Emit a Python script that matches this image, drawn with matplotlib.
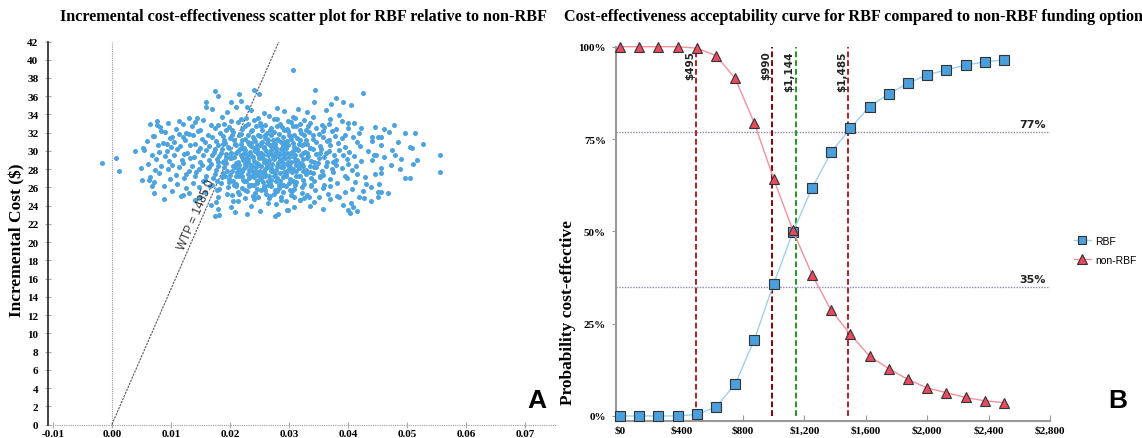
import matplotlib
matplotlib.use("Agg")
import matplotlib.pyplot as plt
from matplotlib.lines import Line2D

# ---------------- data: panel A (incremental effect x1000, incremental cost $) ----------------
rows_upper = [
    (17.0,34.6),(19.5,34.3),(21.0,34.8),(23.5,34.5),(25.8,34.2),(28.0,34.7),(29.2,34.4),(31.5,34.6),(33.0,34.3),(36.2,34.5),
    (13.0,33.6),(15.5,33.4),(18.6,33.7),(20.2,33.3),(22.7,33.6),(24.0,33.4),(26.6,33.8),(27.5,33.5),(29.8,33.3),(31.0,33.6),(32.5,33.4),(34.0,33.7),(37.0,33.5),(39.0,33.3),
    (9.5,33.1),(12.0,32.9),(14.0,33.2),(16.8,32.8),(19.0,33.0),(21.3,33.2),(23.1,32.9),(25.0,33.1),(26.0,32.8),(28.4,33.0),(30.3,33.2),(31.8,32.9),(33.6,33.1),(35.5,32.8),(36.8,33.0),(41.0,33.1),
    (8.2,32.6),(10.8,32.4),(13.5,32.7),(15.0,32.3),(17.5,32.5),(19.8,32.6),(22.0,32.4),(24.4,32.7),(25.5,32.3),(27.0,32.5),(28.8,32.6),(29.7,32.4),(31.2,32.7),(32.9,32.3),(34.6,32.5),(36.0,32.6),(38.0,32.4),(40.0,32.5),(44.5,32.6),
    (9.0,32.1),(11.3,31.9),(12.6,32.0),(14.6,32.2),(16.2,31.8),(18.3,32.0),(20.5,32.1),(21.8,31.9),(23.5,32.2),(24.8,31.8),(26.3,32.0),(27.4,32.1),(28.3,31.9),(29.9,32.2),(30.8,31.8),(32.0,32.0),(33.4,32.1),(35.0,31.9),(37.2,32.2),(39.5,31.8),(41.8,32.0),(47.0,32.1),
    (7.0,31.6),(9.8,31.4),(12.0,31.5),(13.8,31.7),(15.3,31.3),(17.0,31.5),(18.8,31.6),(20.0,31.4),(21.5,31.7),(22.6,31.3),(23.9,31.5),(25.1,31.6),(26.0,31.4),(26.9,31.7),(28.0,31.3),(29.0,31.5),(30.2,31.6),(31.4,31.4),(32.5,31.7),(34.1,31.3),(35.7,31.5),(37.8,31.6),(39.0,31.4),(40.8,31.5),
]
rows_middle = [
    (6.0,31.1),(8.6,30.9),(10.5,31.0),(12.4,31.2),(14.0,30.8),(15.8,31.0),(17.6,31.1),(19.2,30.9),(20.6,31.2),(21.9,30.8),(23.0,31.0),(24.2,31.1),(25.3,30.9),(26.5,31.2),(27.6,30.8),(28.6,31.0),(29.6,31.1),(30.7,30.9),(31.9,31.2),(33.0,30.8),(34.5,31.0),(36.4,31.1),(38.3,30.9),(41.5,31.0),(44.0,31.1),(48.5,31.0),
    (7.8,30.6),(10.0,30.4),(11.5,30.5),(13.2,30.7),(15.0,30.3),(16.5,30.5),(18.0,30.6),(19.6,30.4),(21.0,30.7),(22.3,30.3),(23.6,30.5),(24.6,30.6),(25.7,30.4),(26.7,30.7),(27.8,30.3),(28.9,30.5),(29.8,30.6),(30.9,30.4),(32.2,30.7),(33.6,30.3),(35.2,30.5),(37.0,30.6),(39.4,30.4),(42.0,30.5),(45.5,30.6),(50.5,30.4),
    (5.5,30.1),(8.0,29.9),(9.4,30.0),(11.0,30.2),(12.8,29.8),(14.5,30.0),(16.0,30.1),(17.3,29.9),(18.7,30.2),(20.1,29.8),(21.4,30.0),(22.5,30.1),(23.4,29.9),(24.3,30.2),(25.2,29.8),(26.1,30.0),(27.0,30.1),(27.9,29.9),(28.8,30.2),(29.7,29.8),(30.6,30.0),(31.5,30.1),(32.7,29.9),(34.0,30.2),(35.3,29.8),(36.8,30.0),(38.5,30.1),(40.2,29.9),(43.3,30.0),(47.5,30.1),
    (6.8,29.6),(9.0,29.4),(10.6,29.5),(12.2,29.7),(13.9,29.3),(15.5,29.5),(17.0,29.6),(18.2,29.4),(19.4,29.7),(20.7,29.3),(21.8,29.5),(22.8,29.6),(23.8,29.4),(24.7,29.7),(25.5,29.3),(26.4,29.5),(27.3,29.6),(28.2,29.4),(29.1,29.7),(30.0,29.3),(31.0,29.5),(32.0,29.6),(33.2,29.4),(34.6,29.7),(36.0,29.3),(37.6,29.5),(39.2,29.6),(41.0,29.4),(48.0,29.5),
    (7.5,29.1),(9.7,28.9),(11.8,29.0),(13.3,29.2),(14.9,28.8),(16.4,29.0),(17.8,29.1),(19.0,28.9),(20.2,29.2),(21.3,28.8),(22.2,29.0),(23.1,29.1),(24.0,28.9),(24.9,29.2),(25.8,28.8),(26.6,29.0),(27.5,29.1),(28.4,28.9),(29.3,29.2),(30.3,28.8),(31.3,29.0),(32.4,29.1),(33.7,28.9),(35.0,29.2),(36.5,28.8),(38.0,29.0),(39.8,29.1),(42.2,28.9),(44.0,29.0),(49.0,29.1),
    (6.2,28.6),(8.4,28.4),(10.2,28.5),(12.0,28.7),(13.6,28.3),(15.2,28.5),(16.8,28.6),(18.0,28.4),(19.3,28.7),(20.5,28.3),(21.6,28.5),(22.6,28.6),(23.5,28.4),(24.4,28.7),(25.3,28.3),(26.2,28.5),(27.1,28.6),(28.0,28.4),(29.0,28.7),(30.0,28.3),(31.1,28.5),(32.2,28.6),(33.5,28.4),(34.9,28.7),(36.2,28.3),(37.9,28.5),(40.0,28.6),(41.3,28.4),(47.2,28.5),(51.0,28.6),
]
rows_lower = [
    (5.0,28.1),(7.3,27.9),(9.5,28.0),(11.4,28.2),(13.0,27.8),(14.7,28.0),(16.3,28.1),(17.7,27.9),(19.0,28.2),(20.3,27.8),(21.5,28.0),(22.4,28.1),(23.3,27.9),(24.2,28.2),(25.1,27.8),(26.0,28.0),(26.9,28.1),(27.8,27.9),(28.7,28.2),(29.6,27.8),(30.6,28.0),(31.7,28.1),(32.9,27.9),(34.2,28.2),(35.6,27.8),(37.3,28.0),(39.0,28.1),(40.6,27.9),(48.8,28.0),
    (8.0,27.6),(10.8,27.4),(12.6,27.5),(14.3,27.7),(16.0,27.3),(17.4,27.5),(18.8,27.6),(20.0,27.4),(21.2,27.7),(22.0,27.3),(23.0,27.5),(24.0,27.6),(24.8,27.4),(25.7,27.7),(26.6,27.3),(27.6,27.5),(28.5,27.6),(29.5,27.4),(30.5,27.7),(31.6,27.3),(32.8,27.5),(34.0,27.6),(35.8,27.4),(37.5,27.7),(39.5,27.3),(41.5,27.5),(45.5,27.6),
    (6.5,27.1),(9.8,26.9),(12.2,27.0),(14.0,27.2),(15.7,26.8),(17.2,27.0),(18.6,27.1),(19.8,26.9),(21.0,27.2),(22.2,26.8),(23.2,27.0),(24.1,27.1),(25.0,26.9),(26.0,27.2),(27.0,26.8),(28.0,27.0),(29.0,27.1),(30.1,26.9),(31.2,27.2),(32.4,26.8),(33.8,27.0),(35.3,27.1),(37.0,26.9),(39.8,27.0),(42.8,27.1),(50.5,27.0),
    (7.2,26.6),(11.0,26.4),(13.8,26.5),(15.5,26.7),(17.0,26.3),(18.5,26.5),(19.9,26.6),(21.1,26.4),(22.4,26.7),(23.5,26.3),(24.6,26.5),(25.6,26.6),(26.7,26.4),(27.8,26.7),(28.9,26.3),(30.0,26.5),(31.2,26.6),(32.6,26.4),(34.2,26.7),(36.0,26.3),(38.2,26.5),(41.2,26.6),(45.2,26.4),
    (8.8,26.1),(12.5,25.9),(14.8,26.0),(16.6,26.2),(18.2,25.8),(19.6,26.0),(21.0,26.1),(22.1,25.9),(23.3,26.2),(24.5,25.8),(25.8,26.0),(27.0,26.1),(28.3,25.9),(29.5,26.2),(30.8,25.8),(32.2,26.0),(33.8,26.1),(35.8,25.9),(37.0,26.2),(40.6,25.8),(43.8,26.0),
    (10.2,25.6),(13.0,25.4),(15.8,25.5),(17.8,25.7),(19.5,25.3),(21.4,25.5),(22.9,25.6),(24.3,25.4),(25.9,25.7),(27.4,25.3),(29.0,25.5),(30.5,25.6),(32.2,25.4),(34.4,25.7),(36.6,25.3),(39.5,25.5),(42.5,25.6),(46.8,25.4),
    (11.7,25.1),(15.0,24.9),(18.0,25.0),(20.4,25.2),(22.5,24.8),(24.8,25.0),(26.8,25.1),(28.6,24.9),(30.4,25.2),(32.6,24.8),(35.0,25.0),(38.2,25.1),(41.8,24.9),(45.0,25.0),
    (14.0,24.6),(17.6,24.4),(21.4,24.5),(24.0,24.7),(26.5,24.3),(29.5,24.5),(31.8,24.6),(34.2,24.4),(37.0,24.7),(40.5,24.3),(43.8,24.5),
    (16.8,24.1),(20.2,23.9),(23.5,24.0),(27.8,24.2),(30.8,23.8),(33.5,24.0),(39.2,24.1),
    (18.0,23.6),(25.0,23.4),(29.8,23.5),(35.8,23.6),(41.5,23.4),
    (17.4,22.9),(18.2,23.0),(22.8,23.1),(27.6,22.9),(28.1,23.1),(40.3,23.2),
]
core_extra = [
    (19.0,31.25),(20.8,30.75),(22.0,31.25),(23.2,30.75),(24.0,31.35),(25.0,30.7),(26.2,31.3),(27.2,30.75),(28.2,31.25),(29.3,30.7),(30.4,31.3),(31.6,30.75),(32.8,31.2),
    (18.5,29.75),(19.8,30.3),(21.1,29.75),(22.0,30.3),(23.0,29.7),(24.0,30.3),(24.9,29.75),(25.8,30.3),(26.8,29.75),(27.6,30.3),(28.5,29.7),(29.4,30.3),(30.3,29.75),(31.2,30.25),(32.3,29.75),(33.5,30.3),
    (18.8,28.75),(20.0,29.25),(21.0,28.7),(22.0,29.3),(23.0,28.75),(23.9,29.3),(24.6,28.7),(25.5,29.25),(26.4,28.75),(27.2,29.3),(28.1,28.7),(29.0,29.25),(29.9,28.75),(30.8,29.3),(31.8,28.7),(33.0,29.25),(34.3,28.75),
    (19.5,27.75),(20.8,28.25),(21.8,27.7),(22.7,28.3),(23.7,27.75),(24.6,28.3),(25.4,27.7),(26.3,28.25),(27.2,27.75),(28.2,28.3),(29.1,27.7),(30.1,28.25),(31.1,27.75),(32.3,28.3),(33.6,27.7),
    (20.5,26.75),(21.6,27.25),(22.7,26.7),(23.7,27.3),(24.6,26.75),(25.5,27.25),(26.4,26.7),(27.4,27.3),(28.4,26.75),(29.5,27.25),(30.6,26.7),(31.8,27.3),
    (20.4,32.25),(22.6,32.75),(23.8,32.25),(25.2,32.75),(26.8,32.25),(28.0,32.75),(29.2,32.25),(30.6,32.75),(31.8,32.25),
    (22.5,25.75),(24.0,26.25),(25.2,25.7),(26.5,26.3),(27.7,25.75),(29.0,26.25),(30.2,25.75),
    (24.3,30.0),(25.6,29.5),(26.9,30.5),(28.4,29.0),(27.0,28.0),(25.5,31.0),(29.2,31.0),(23.5,28.5),(30.0,28.0),(26.0,27.5),
]
core_extra2 = [
    (17.5,30.25),(18.9,30.75),(20.3,31.75),(21.7,30.25),(23.0,31.8),(24.5,30.25),(25.9,31.75),(27.3,31.2),(28.7,30.25),(30.0,31.75),(31.3,30.2),(32.6,30.75),(34.0,31.75),(35.4,30.25),(36.8,31.25),
    (16.5,28.25),(17.9,28.8),(19.4,29.3),(20.9,28.25),(22.3,29.8),(23.6,28.2),(25.0,29.8),(26.2,28.2),(27.6,29.75),(28.9,28.25),(30.4,29.8),(31.7,28.25),(33.1,29.75),(34.6,28.25),(36.3,29.75),(37.5,28.75),
    (17.8,26.75),(19.2,27.25),(20.6,26.25),(22.0,27.75),(23.3,26.25),(24.4,27.8),(25.8,26.2),(27.0,27.75),(28.3,26.25),(29.7,27.8),(31.0,26.25),(32.4,27.75),(33.8,26.3),(35.2,27.25),
    (21.5,25.25),(23.9,25.05),(26.1,25.3),(28.0,25.6),(30.9,24.95),(33.1,25.2),
    (18.0,32.8),(19.3,32.25),(21.9,33.5),(24.8,33.6),(27.9,33.45),(30.6,33.7),(33.2,32.75),(35.8,32.2),
    (26.3,30.85),(27.7,29.35),(24.9,28.45),(26.0,29.0),(28.9,30.05),(23.5,30.9),(29.6,28.55),(25.2,27.05),(31.0,28.9),(22.6,29.1),
]
sparse_pts = [
    (-1.6,28.7),(0.7,29.2),(1.2,27.8),(4.0,30.0),(5.3,30.3),(5.1,26.8),(6.3,26.8),(6.8,26.2),(7.2,25.4),(6.5,32.9),(7.6,33.3),(7.6,32.8),(7.1,31.6),
    (8.9,24.7),(11.4,33.3),(12.0,25.2),(14.4,33.6),(15.9,34.8),(15.9,35.4),(17.4,36.6),(18.0,36.0),(20.1,35.4),(21.5,36.2),(21.9,35.5),(24.1,36.7),(24.9,36.2),
    (22.9,34.8),(20.9,23.3),(30.7,38.9),(34.4,36.7),(42.5,36.3),(38.0,35.8),(39.1,35.4),(40.5,35.0),(37.1,35.2),(34.3,35.4),(38.5,33.9),(40.0,33.1),
    (47.8,32.8),(49.6,32.0),(51.3,32.0),(46.1,32.4),(42.2,32.5),(52.7,30.8),(50.9,30.3),(55.6,29.5),(55.6,27.7),(51.7,29.0),(49.6,27.0),(46.1,29.3),
    (45.6,28.1),(44.6,27.5),(45.0,25.5),(45.5,25.5),(43.0,26.4),(42.7,24.8),(40.9,23.9),(39.9,23.5),(38.4,24.9),(33.4,24.9),(31.9,24.6),(29.7,23.5),
    (44.3,29.6),(44.8,29.6),(44.0,31.5),(45.1,31.5),(45.6,31.5),(26.6,24.8),(28.6,24.6),(20.5,24.5),(13.0,31.9),(8.3,32.2),(10.2,31.5),(9.3,30.8),
]
wtp_threshold = 1485.0

# ---------------- data: panel B (CEAC) ----------------
wtp_values = [0, 125, 250, 375, 500, 625, 750, 875, 1000, 1125, 1250, 1375, 1500,
              1625, 1750, 1875, 2000, 2125, 2250, 2375, 2500]
prob_rbf = [0.0, 0.0, 0.0, 0.0, 0.004, 0.024, 0.086, 0.207, 0.357, 0.497, 0.617, 0.714, 0.779,
            0.838, 0.872, 0.901, 0.924, 0.937, 0.950, 0.959, 0.964]
prob_non_rbf = [1.0, 1.0, 1.0, 1.0, 0.996, 0.976, 0.914, 0.793, 0.643, 0.503, 0.383, 0.286, 0.221,
                0.162, 0.128, 0.099, 0.076, 0.063, 0.050, 0.041, 0.036]
threshold_vals = [495, 990, 1144, 1485]
threshold_labels = ["$495", "$990", "$1,144", "$1,485"]
threshold_colors = ["#b22222", "#8b0000", "#1f9a1f", "#b22222"]
hline_vals = [0.77, 0.35]
hline_labels = ["77%", "35%"]
xticks_B = [0, 400, 800, 1200, 1600, 2000, 2400, 2800]
xticklabels_B = ["$0", "$400", "$800", "$1,200", "$1,600", "$2,000", "$2,400", "$2,800"]
yticks_B = [0, 0.25, 0.5, 0.75, 1.0]
yticklabels_B = ["0%", "25%", "50%", "75%", "100%"]
xticks_A = [-0.01, 0.0, 0.01, 0.02, 0.03, 0.04, 0.05, 0.06, 0.07]
xticklabels_A = ["-0.01", "0.00", "0.01", "0.02", "0.03", "0.04", "0.05", "0.06", "0.07"]
yticks_A = list(range(0, 43, 2))

# ---------------- figure ----------------
W, H = 1142, 439
fig = plt.figure(figsize=(W / 100, H / 100), dpi=100)


def fx(px):
    return px / W


def fy(py):
    return 1 - py / H


serif_b = dict(family="Liberation Serif", weight="bold")

# ---- Panel A ----
axA = fig.add_axes([fx(47.5), fy(425.5), fx(556) - fx(47.5), fy(42.5) - fy(425.5)])
axA.set_xlim(-0.0109, 0.0752)
axA.set_ylim(0, 42)
pts = rows_upper + rows_middle + rows_lower + core_extra + core_extra2 + sparse_pts
xs = [p[0] / 1000.0 for p in pts]
ys = [p[1] for p in pts]
axA.scatter(xs, ys, s=13, color="#4ba3df", linewidths=0, zorder=3)
axA.axvline(0, color="#9a9a9a", lw=0.8, ls=(0, (1, 1)), zorder=1)
axA.axhline(0, color="#9a9a9a", lw=0.8, ls=(0, (1, 1)), zorder=1, clip_on=False)
xe = 42 / wtp_threshold
axA.plot([0, xe], [0, wtp_threshold * xe], color="#555555", lw=0.8, ls=(0, (2, 1)), zorder=2)
axA.text(0.01433, 23.08, "WTP = 1485.0", rotation=66.4, rotation_mode="anchor",
         ha="center", va="center", fontsize=8.5, family="Liberation Sans", color="#333333")
for s in ["top", "right", "bottom"]:
    axA.spines[s].set_visible(False)
axA.spines["left"].set_color("#222222")
axA.spines["left"].set_linewidth(1.2)
axA.set_xticks(xticks_A)
axA.set_xticklabels(xticklabels_A)
axA.set_yticks(yticks_A)
axA.set_yticklabels([str(v) for v in yticks_A])
axA.tick_params(axis="both", direction="inout", length=5, color="#aaaaaa", width=0.8,
                labelsize=8)
axA.tick_params(axis="x", pad=1)
axA.tick_params(axis="y", pad=4)
for lab in axA.get_xticklabels() + axA.get_yticklabels():
    lab.set_fontfamily("Liberation Serif")
    lab.set_fontweight("bold")
fig.text(fx(304), fy(17), "Incremental cost-effectiveness scatter plot for RBF relative to non-RBF",
         ha="center", va="center", fontsize=11.6, **serif_b)
fig.text(fx(17), fy(240), "Incremental Cost ($)", rotation=90, ha="center", va="center",
         fontsize=12.5, **serif_b)
fig.text(fx(537), fy(401), "A", ha="center", va="center", fontsize=19, weight="bold",
         family="Liberation Sans")

# ---- Panel B ----
axB = fig.add_axes([fx(615.7), fy(422.3), fx(1050) - fx(615.7), fy(47.7) - fy(422.3)])
axB.set_xlim(-28, 2800)
axB.set_ylim(-0.0145, 1.0)
for v, lab, c in zip(threshold_vals, threshold_labels, threshold_colors):
    axB.vlines(v, 0, 1.0, colors=c, linestyles=(0, (3, 1.5)), lw=1.4, zorder=2)
    axB.text(v - 8, 0.99, lab, rotation=90, ha="right", va="top", fontsize=7.5,
             weight="bold", family="DejaVu Sans", color="#222222", zorder=4)
for v, lab in zip(hline_vals, hline_labels):
    axB.hlines(v, -28, 2800, colors="#8a88b8", linestyles=(0, (1, 1)), lw=1.0, zorder=1)
    axB.text(2770, v + 0.008, lab, ha="right", va="bottom", fontsize=8, weight="bold",
             family="DejaVu Sans", color="#222222")
axB.plot(wtp_values, prob_rbf, color="#9fd0ef", lw=1.0, marker="s", ms=7,
         mfc="#4a9fdc", mec="#333333", mew=0.8, zorder=5, clip_on=False, label="RBF")
axB.plot(wtp_values, prob_non_rbf, color="#f2919c", lw=1.0, marker="^", ms=7.5,
         mfc="#e84a5f", mec="#333333", mew=0.8, zorder=5, clip_on=False, label="non-RBF")
for s in ["top", "right"]:
    axB.spines[s].set_visible(False)
for s in ["left", "bottom"]:
    axB.spines[s].set_color("#999999")
    axB.spines[s].set_linewidth(1.5)
axB.set_xticks(xticks_B)
axB.set_xticklabels(xticklabels_B)
axB.set_yticks(yticks_B)
axB.set_yticklabels(yticklabels_B)
axB.tick_params(axis="x", direction="in", length=4, color="#999999", pad=3, labelsize=8)
axB.tick_params(axis="y", direction="out", length=3, color="#999999", pad=4, labelsize=8)
for lab in axB.get_xticklabels() + axB.get_yticklabels():
    lab.set_fontfamily("Liberation Serif")
    lab.set_fontweight("bold")
fig.text(fx(853), fy(17), "Cost-effectiveness acceptability curve for RBF compared to non-RBF funding option",
         ha="center", va="center", fontsize=11.6, **serif_b)
fig.text(fx(568), fy(313), "Probability cost-effective", rotation=90, ha="center", va="center",
         fontsize=12.5, **serif_b)
fig.text(fx(1118), fy(401), "B", ha="center", va="center", fontsize=19, weight="bold",
         family="Liberation Sans")

handles = [
    Line2D([], [], color="#9fd0ef", lw=1.0, marker="s", ms=6, mfc="#4a9fdc", mec="#333333", mew=0.8),
    Line2D([], [], color="#f2919c", lw=1.0, marker="^", ms=6.5, mfc="#e84a5f", mec="#333333", mew=0.8),
]
fig.legend(handles, ["RBF", "non-RBF"], loc="upper left", bbox_to_anchor=(fx(1074), fy(237)),
           frameon=False, handlelength=1.6, handletextpad=0.4,
           labelspacing=0.85, borderaxespad=0, borderpad=0,
           prop=dict(family="Liberation Sans", size=7.5))

fig.savefig("out.png", dpi=100)
